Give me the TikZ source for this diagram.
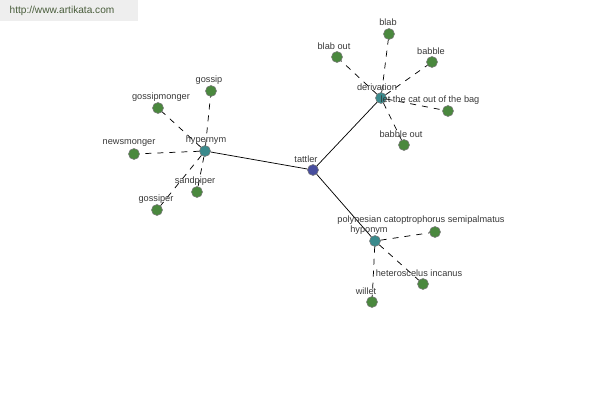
\documentclass[tikz,border=0pt]{standalone}
\usepackage{fontspec}
\setmainfont{Liberation Sans}

\begin{document}
\begin{tikzpicture}[x=0.75pt,y=0.75pt,yscale=-1,
  leaf/.style={circle,draw=black!55,line width=0.4pt,fill={rgb,255:red,74;green,136;blue,62},minimum size=8.2pt,inner sep=0pt},
  hub/.style={leaf,fill={rgb,255:red,58;green,138;blue,140}},
  root/.style={leaf,fill={rgb,255:red,72;green,78;blue,158}},
  lbl/.style={font=\fontsize{6.9}{7.5}\selectfont,text=black!78,inner sep=0pt},
  syn/.style={dash pattern=on 4.5pt off 4.5pt,line width=0.55pt},
  rel/.style={line width=0.55pt}]

\useasboundingbox (0,0) rectangle (600,400);

% Watermark
\fill [color={rgb, 255:red, 238; green, 238; blue, 238 }] (0,0) rectangle (138,21);
\node (site) at (62,11) [inner sep=0pt,font=\fontsize{7.6}{9}\selectfont,text={rgb,255:red,72;green,92;blue,58}] {http://www.artikata.com};

% Centre and hubs
\node [root] (tattler) at (313,170) {};
\node [hub] (hypernym) at (205,151) {};
\node [hub] (derivation) at (381,98) {};
\node [hub] (hyponym) at (375,241) {};

% Leaves
\node [leaf] (gossip) at (211,91) {};
\node [leaf] (gossipmonger) at (158,108) {};
\node [leaf] (newsmonger) at (134,154) {};
\node [leaf] (sandpiper) at (197,192) {};
\node [leaf] (gossiper) at (157,210) {};
\node [leaf] (blab) at (389,34) {};
\node [leaf] (blabout) at (337,57) {};
\node [leaf] (babble) at (432,62) {};
\node [leaf] (letcat) at (448,111) {};
\node [leaf] (babbleout) at (404,145) {};
\node [leaf] (polynesian) at (435,232) {};
\node [leaf] (heteroscelus) at (423,284) {};
\node [leaf] (willet) at (372,302) {};

% Solid links
\draw [rel] (tattler) -- (hypernym);
\draw [rel] (tattler) -- (derivation);
\draw [rel] (tattler) -- (hyponym);

% Dashed links
\foreach \n in {gossip,gossipmonger,newsmonger,sandpiper,gossiper}
  \draw [syn] (hypernym) -- (\n);
\foreach \n in {blab,blabout,babble,letcat,babbleout}
  \draw [syn] (derivation) -- (\n);
\foreach \n in {polynesian,heteroscelus,willet}
  \draw [syn] (hyponym) -- (\n);

% Text Node
\node [lbl] (tattler-l) at (306,159) {tattler};
\node [lbl] (hypernym-l) at (206,140) {hypernym};
\node [lbl] (derivation-l) at (377,87) {derivation};
\node [lbl] (hyponym-l) at (369,230) {hyponym};
\node [lbl] (gossip-l) at (209,80) {gossip};
\node [lbl] (gossipmonger-l) at (161,97) {gossipmonger};
\node [lbl] (newsmonger-l) at (129,143) {newsmonger};
\node [lbl] (sandpiper-l) at (195,181) {sandpiper};
\node [lbl] (gossiper-l) at (156,199) {gossiper};
\node [lbl] (blab-l) at (388,22) {blab};
\node [lbl] (blabout-l) at (334,46) {blab out};
\node [lbl] (babble-l) at (431,51) {babble};
\node [lbl] (letcat-l) at (430,100) {let the cat out of the bag};
\node [lbl] (babbleout-l) at (401,134) {babble out};
\node [lbl] (polynesian-l) at (421,220) {polynesian catoptrophorus semipalmatus};
\node [lbl] (heteroscelus-l) at (419,273) {heteroscelus incanus};
\node [lbl] (willet-l) at (366,291) {willet};

\end{tikzpicture}
\end{document}
